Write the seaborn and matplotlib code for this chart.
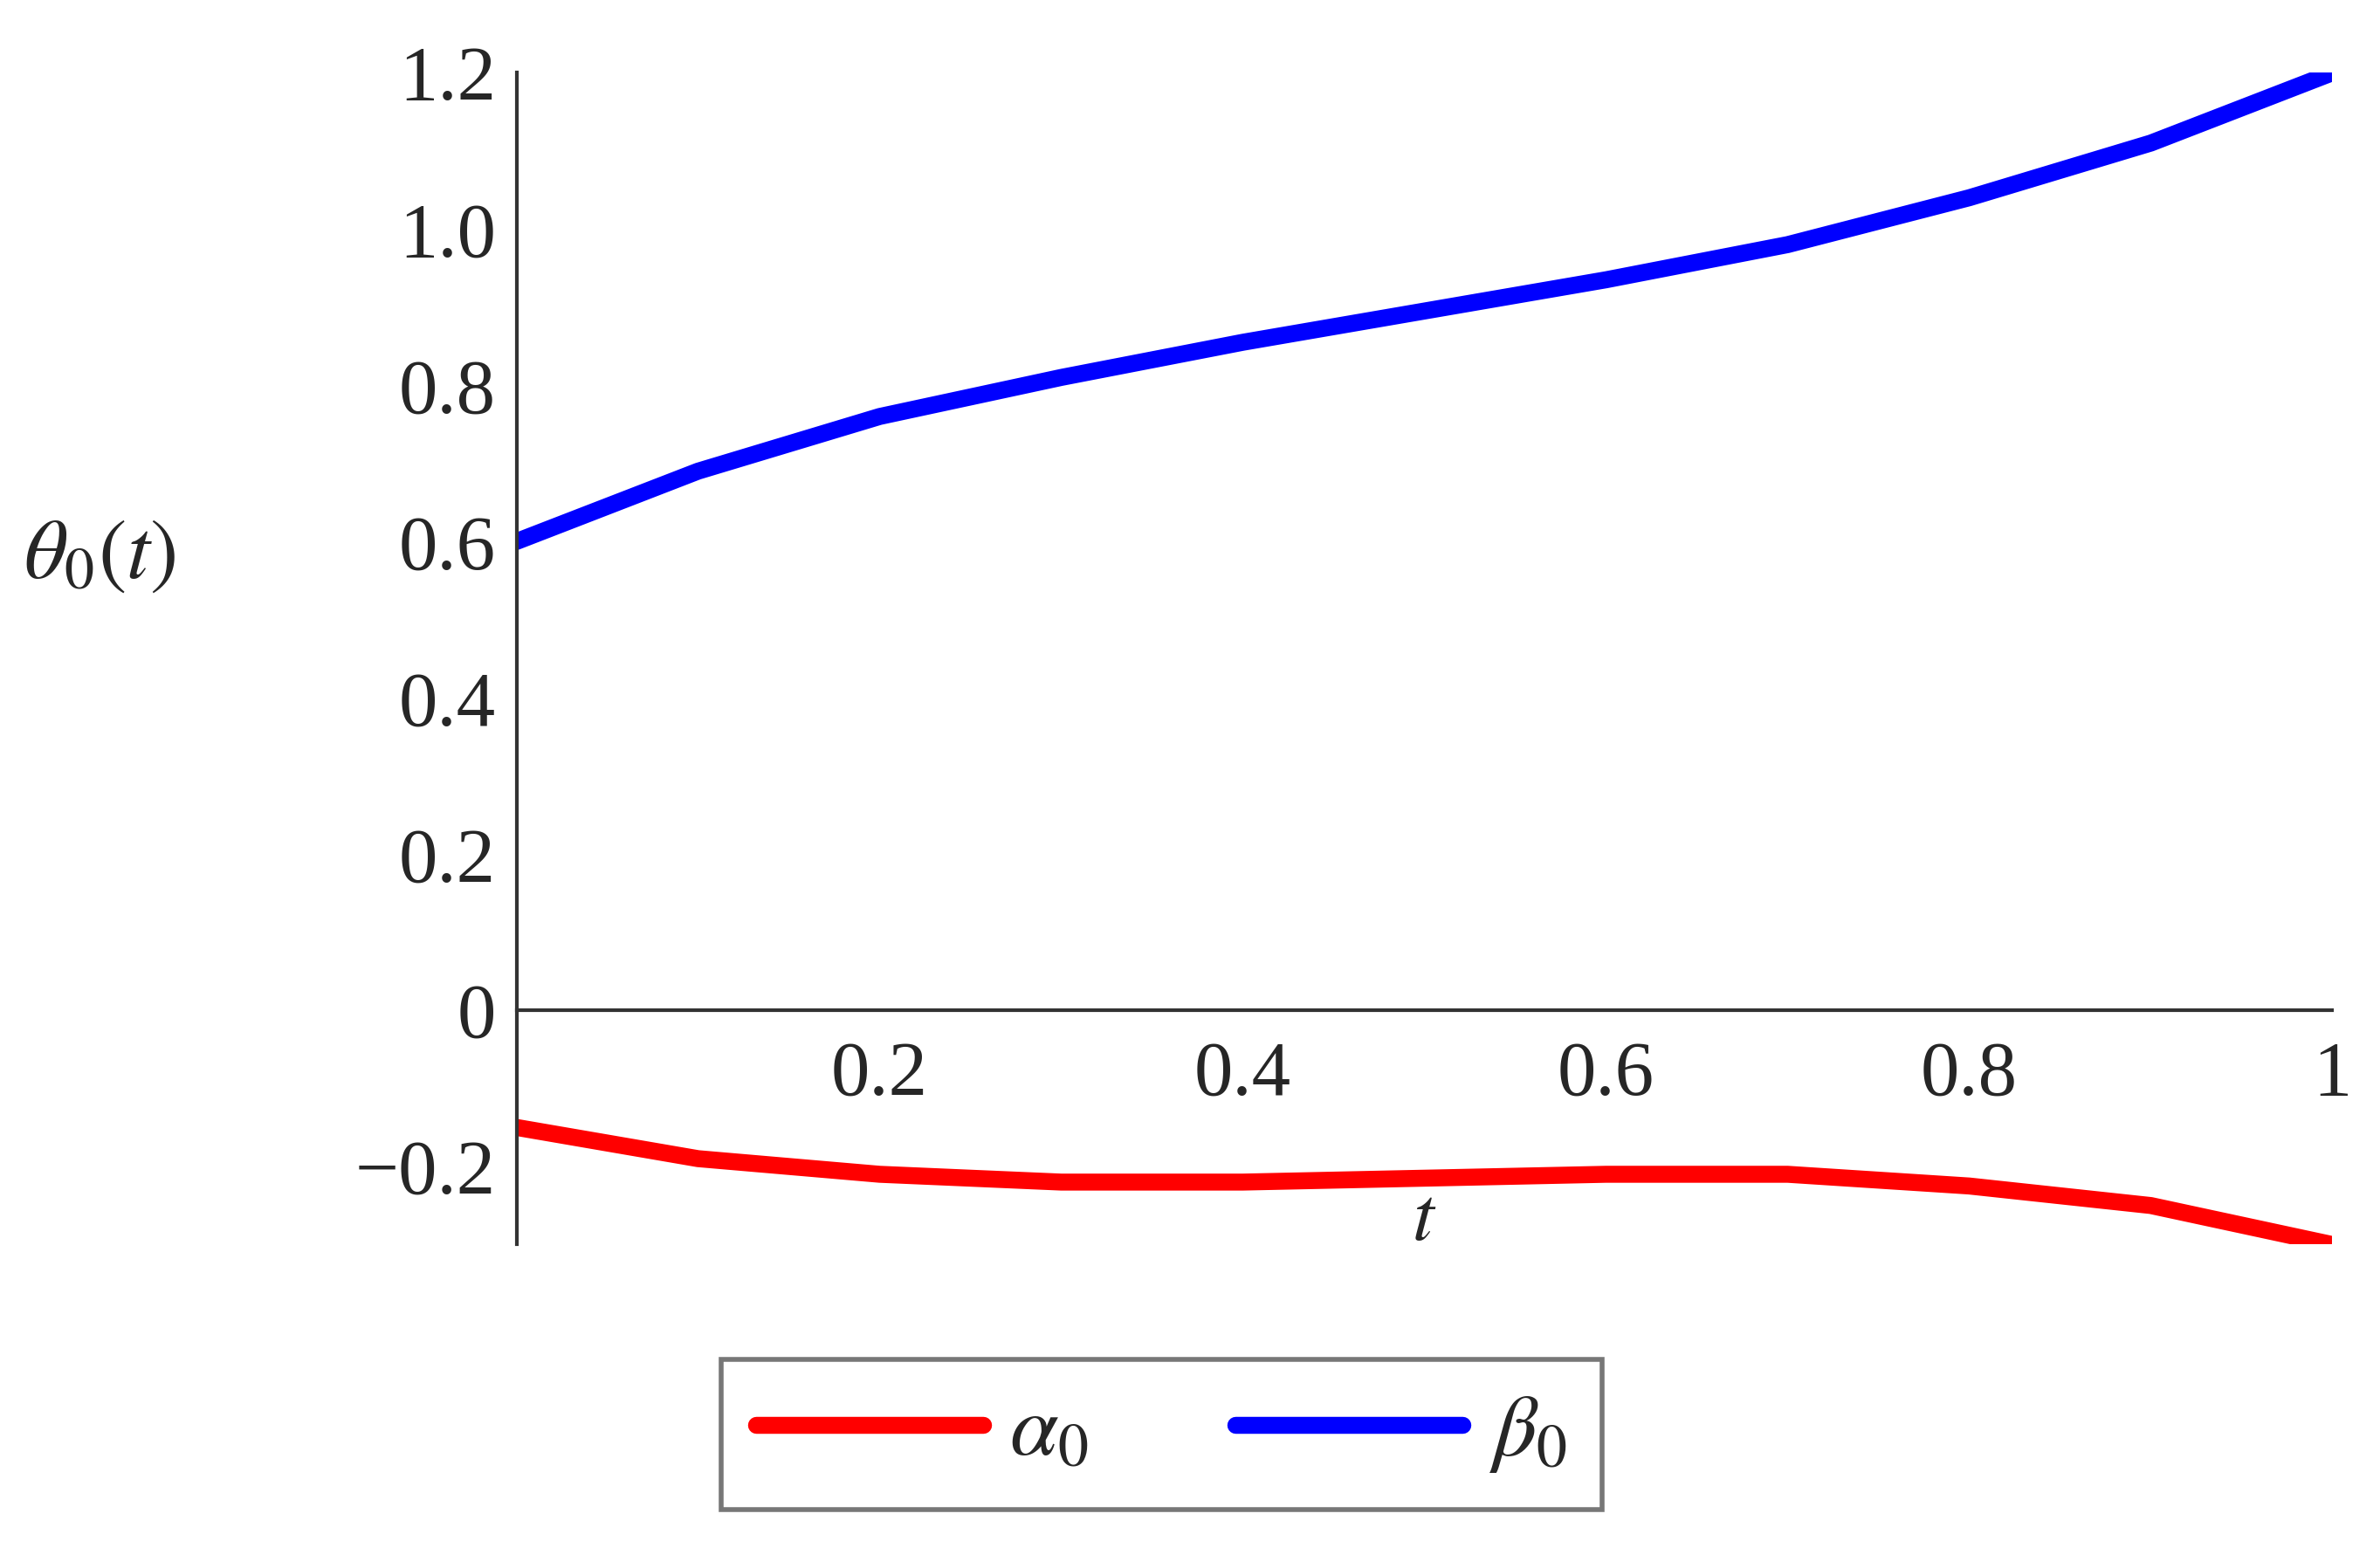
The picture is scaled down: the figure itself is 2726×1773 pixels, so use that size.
import matplotlib
matplotlib.use("Agg")
import matplotlib.pyplot as plt
import seaborn as sns
from matplotlib.ticker import MultipleLocator, FixedLocator

sns.set_style("white")
plt.rcParams['font.family'] = ['Liberation Serif', 'DejaVu Serif']
plt.rcParams['mathtext.fontset'] = 'stix'

t = [0.0, 0.1, 0.2, 0.3, 0.4, 0.5, 0.6, 0.7, 0.8, 0.9, 1.0]
beta0 = [0.6, 0.69, 0.76, 0.81, 0.855, 0.895, 0.935, 0.98, 1.04, 1.11, 1.2]
alpha0 = [-0.15, -0.19, -0.21, -0.22, -0.22, -0.215, -0.21, -0.21, -0.225, -0.25, -0.30]

fig = plt.figure(figsize=(27.26, 17.73), dpi=100)
ax = fig.add_axes([0.217, 0.196, 0.763, 0.757])

sns.lineplot(x=t, y=alpha0, ax=ax, color="red", lw=14, label=r"$\alpha_0$")
sns.lineplot(x=t, y=beta0, ax=ax, color="blue", lw=14, label=r"$\beta_0$")

ax.set_xlim(0, 1)
ax.set_ylim(-0.3, 1.2)
for s in ["top", "right"]:
    ax.spines[s].set_visible(False)
ax.spines["left"].set_position(("data", 0))
ax.spines["bottom"].set_position(("data", 0))
for s in ["left", "bottom"]:
    ax.spines[s].set_linewidth(3)
    ax.spines[s].set_color("#333333")

ax.xaxis.set_major_locator(FixedLocator([0.2, 0.4, 0.6, 0.8, 1.0]))
ax.set_xticklabels(["0.2", "0.4", "0.6", "0.8", "1"])
ax.xaxis.set_minor_locator(MultipleLocator(0.05))
ax.yaxis.set_major_locator(FixedLocator([-0.2, 0, 0.2, 0.4, 0.6, 0.8, 1.0, 1.2]))
ax.set_yticklabels(["\u22120.2", "0", "0.2", "0.4", "0.6", "0.8", "1.0", "1.2"])
ax.yaxis.set_minor_locator(MultipleLocator(0.05))
ax.tick_params(which="major", direction="inout", length=22, width=3, labelsize=64, color="#333333")
ax.tick_params(which="minor", direction="in", length=10, width=2.5, color="#333333")
ax.tick_params(axis="x", pad=14)
ax.tick_params(axis="y", pad=6)

fig.text(0.01, 0.64, r"$\theta_0(t)$", fontsize=70, ha="left", va="center")
ax.text(0.5, -0.27, r"$t$", fontsize=64, ha="center", va="center")

ax.legend(loc="lower left", bbox_to_anchor=(0.303, 0.025, 0.37, 0.134),
          bbox_transform=fig.transFigure, ncol=2, mode="expand",
          fontsize=72, frameon=True, fancybox=False, edgecolor="#555555",
          handlelength=2.6, handletextpad=0.3, columnspacing=0.3,
          borderaxespad=0).get_frame().set_linewidth(4)

fig.savefig("out.png", dpi=100)
